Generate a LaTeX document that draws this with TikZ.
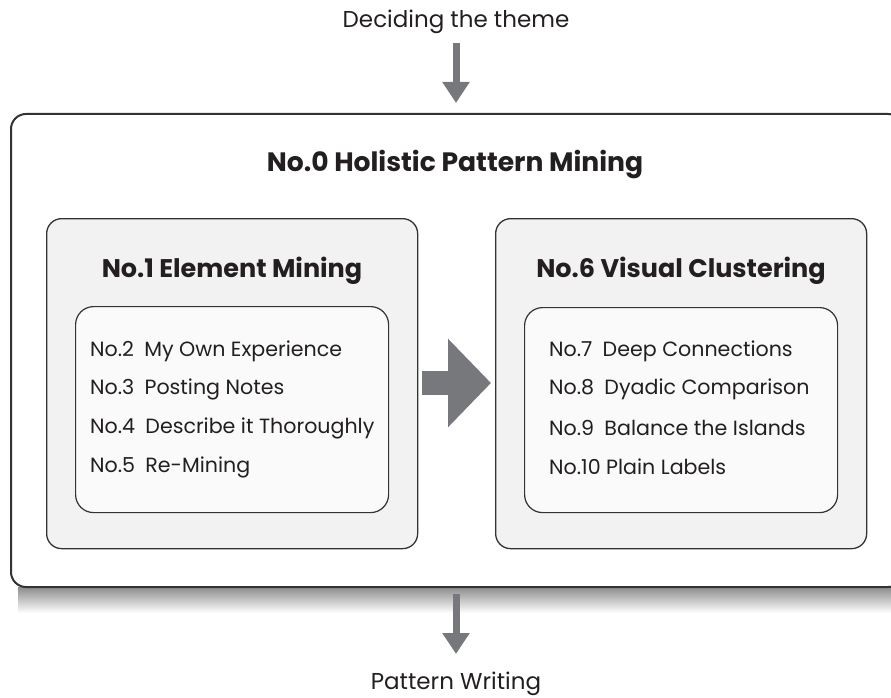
\documentclass[tikz,border=0pt]{standalone}
\usepackage{fontspec}
\setmainfont{Poppins}
\usetikzlibrary{arrows.meta}
\definecolor{txt}{HTML}{231F20}
\definecolor{arr}{HTML}{77787B}
\definecolor{boxfill}{HTML}{F2F2F2}
\definecolor{innerfill}{HTML}{FAFAFA}
\definecolor{edge}{HTML}{333333}
\tikzset{
  outerbox/.style={draw=edge, line width=2pt, fill=white, rounded corners=15pt},
  groupbox/.style={draw=edge, line width=1.3pt, fill=boxfill, rounded corners=15pt},
  listbox/.style={draw=edge, line width=1.2pt, fill=innerfill, rounded corners=18pt},
  itemtxt/.style={anchor=west, inner sep=0pt, text=txt, font=\fontsize{20.6}{24}\selectfont},
  headtxt/.style={inner sep=0pt, text=txt, font=\fontsize{25.5}{30}\selectfont\bfseries},
  flowtxt/.style={inner sep=0pt, text=txt, font=\fontsize{23}{26}\selectfont},
  thinarrow/.style={draw=arr, line width=7pt, -{Triangle[width=26pt,length=21pt]}},
  bigarrow/.style={draw=arr, line width=24pt, -{Triangle[width=86pt,length=43pt]}},
}
\begin{document}
\begin{tikzpicture}[x=1pt,y=-1pt]
\useasboundingbox (0,0) rectangle (891,698);
\clip (0,0) rectangle (891,698);
% shadow
\shade[top color=black!45, bottom color=white] (18,587) rectangle (891,613);
% outer box
\node[outerbox, minimum width=892pt, minimum height=473pt, anchor=north west] (outer) at (10,113) {};
\node[headtxt, font=\fontsize{26.6}{30}\selectfont\bfseries] (title) at (455,165) {No.0 Holistic Pattern Mining};
% group boxes
\node[groupbox, minimum width=371pt, minimum height=330pt, anchor=north west] (left) at (46,218) {};
\node[groupbox, minimum width=371pt, minimum height=330pt, anchor=north west] (right) at (495,218) {};
\node[headtxt] (lefttitle) at (232,271) {No.1 Element Mining};
\node[headtxt] (righttitle) at (681,271) {No.6 Visual Clustering};
% list boxes
\node[listbox, minimum width=313pt, minimum height=206pt, anchor=north west] (leftlist) at (75,306) {};
\node[listbox, minimum width=313pt, minimum height=205pt, anchor=north west] (rightlist) at (524,307) {};
% items
\node[itemtxt] (i2) at (90,351) {No.2\hspace{0.5em}My Own Experience};
\node[itemtxt] (i3) at (90,389) {No.3\hspace{0.5em}Posting Notes};
\node[itemtxt] (i4) at (90,428) {No.4\hspace{0.5em}Describe it Thoroughly};
\node[itemtxt] (i5) at (90,467) {No.5\hspace{0.5em}Re-Mining};
\node[itemtxt] (i7) at (549,351) {No.7\hspace{0.5em}Deep Connections};
\node[itemtxt] (i8) at (549,389) {No.8\hspace{0.5em}Dyadic Comparison};
\node[itemtxt] (i9) at (549,428) {No.9\hspace{0.5em}Balance the Islands};
\node[itemtxt] (i10) at (549,467) {No.10 Plain Labels};
% flow texts
\node[flowtxt] (theme) at (456,22) {Deciding the theme};
\node[flowtxt] (writing) at (456,684) {Pattern Writing};
% arrows
\coordinate (a1s) at (456,43);
\coordinate (a1e) at (456,103);
\coordinate (a2s) at (456,594);
\coordinate (a2e) at (456,654);
\coordinate (bs) at (422,383);
\coordinate (be) at (491,383);
\draw[thinarrow] (a1s) -- (a1e);
\draw[thinarrow] (a2s) -- (a2e);
\draw[bigarrow] (bs) -- (be);
\end{tikzpicture}
\end{document}
